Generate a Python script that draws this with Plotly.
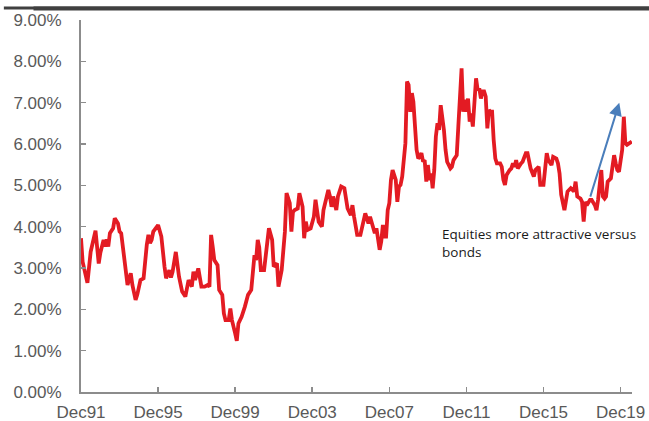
import pandas as pd
import plotly.graph_objects as go

# Months elapsed since Dec 1991 and the plotted yield gap (%)
months_since_dec91 = [
    0, 1, 4, 6, 9, 11, 12, 14, 15, 16, 17, 18, 20, 21, 23, 24, 25, 27, 28, 29,
    31, 32, 34, 35, 37, 39, 41, 42, 43, 44, 45, 48, 50, 51, 52, 53, 55, 56, 57, 59,
    61, 63, 65, 67, 69, 70, 71, 73, 75, 77, 79, 80, 81, 82, 83, 85, 86, 88, 89, 90,
    92, 93, 94, 96, 97, 98, 100, 102, 104, 106, 108, 109, 110, 111, 112, 114, 116, 117, 119, 120,
    122, 123, 125, 127, 128, 130, 131, 132, 133, 135, 136, 138, 139, 140, 141, 143, 145, 146, 148, 150,
    151, 153, 154, 155, 156, 157, 159, 160, 162, 164, 165, 166, 168, 169, 170, 171, 172, 174, 176, 177,
    178, 179, 180, 182, 183, 184, 185, 186, 187, 188, 189, 190, 191, 192, 193, 194, 196, 197, 198, 199,
    200, 201, 202, 203, 204, 205, 206, 207, 208, 209, 210, 211, 212, 213, 214, 215, 216, 217, 218, 219,
    220, 221, 222, 223, 224, 225, 226, 227, 228, 230, 231, 232, 234, 235, 236, 237, 238, 239, 240, 241,
    242, 243, 244, 245, 246, 247, 248, 249, 250, 251, 252, 253, 254, 255, 256, 257, 258, 259, 261, 262,
    263, 264, 265, 267, 268, 269, 270, 271, 272, 274, 275, 277, 278, 280, 282, 283, 285, 286, 288, 290,
    291, 293, 294, 296, 297, 298, 299, 301, 302, 303, 305, 307, 308, 309, 311, 312, 313, 314, 315, 317,
    318, 320, 321, 322, 324, 325, 326, 327, 328, 329, 330, 331, 332, 333, 334, 335, 336, 337, 338, 339,
    340, 342, 343,
]
yield_gap = [
    3.72, 3.15, 2.64, 3.39, 3.90, 3.11, 3.36, 3.68, 3.52, 3.69, 3.52, 3.84, 3.96, 4.20, 4.08, 3.88, 3.84, 3.15, 2.87, 2.59,
    2.87, 2.59, 2.23, 2.35, 2.71, 2.75, 3.56, 3.80, 3.60, 3.68, 3.88, 4.04, 3.76, 3.31, 3.03, 2.75, 2.95, 2.77, 2.91, 3.39,
    2.79, 2.43, 2.31, 2.71, 2.55, 2.91, 2.71, 2.99, 2.55, 2.55, 2.59, 2.55, 3.80, 3.52, 3.19, 3.07, 2.47, 2.35, 1.90, 1.74,
    1.74, 2.02, 1.74, 1.42, 1.24, 1.66, 1.82, 2.06, 2.35, 2.47, 3.31, 3.19, 3.68, 3.50, 2.95, 2.95, 3.60, 3.96, 3.68, 3.03,
    3.11, 2.55, 2.95, 3.88, 4.81, 4.57, 3.88, 4.36, 4.40, 4.44, 4.81, 4.48, 3.72, 4.12, 3.92, 3.96, 4.24, 4.65, 4.12, 4.00,
    4.40, 4.77, 4.89, 4.73, 4.48, 4.73, 4.40, 4.73, 4.97, 4.93, 4.65, 4.44, 4.28, 4.52, 4.24, 4.00, 3.80, 3.80, 4.16, 4.32,
    4.20, 4.08, 4.24, 4.00, 3.84, 3.96, 3.68, 3.44, 3.64, 4.04, 3.76, 3.76, 4.40, 4.57, 5.13, 5.37, 5.13, 4.60, 4.97, 5.01,
    5.21, 5.53, 6.02, 7.51, 7.43, 6.78, 7.23, 7.02, 6.42, 5.86, 5.65, 5.69, 5.78, 5.57, 5.61, 5.09, 5.49, 5.13, 5.29, 4.93,
    5.37, 6.18, 6.50, 6.34, 6.94, 6.70, 6.34, 5.86, 5.57, 5.41, 5.45, 5.61, 5.73, 6.42, 7.39, 7.83, 6.78, 7.07, 6.78, 7.10,
    6.54, 6.74, 6.42, 7.07, 7.59, 7.31, 7.35, 7.10, 7.27, 7.27, 7.15, 6.38, 6.82, 6.78, 6.78, 6.10, 5.65, 5.53, 5.53, 5.45,
    5.13, 5.01, 5.25, 5.37, 5.41, 5.53, 5.45, 5.61, 5.41, 5.53, 5.57, 5.78, 5.78, 5.41, 5.21, 5.37, 5.45, 5.01, 5.01, 5.78,
    5.61, 5.49, 5.69, 5.65, 5.53, 5.29, 4.77, 4.40, 4.73, 4.85, 4.93, 4.85, 5.09, 4.73, 4.68, 4.60, 4.12, 4.60, 4.52, 4.65,
    4.65, 4.52, 4.40, 4.65, 5.37, 4.73, 4.68, 4.73, 5.09, 5.13, 5.17, 5.45, 5.73, 5.53, 5.37, 5.33, 5.57, 5.86, 6.66, 6.02,
    5.98, 6.02, 6.06,
]

start = pd.Timestamp("1991-12-01")
dates = [start + pd.DateOffset(months=m) for m in months_since_dec91]

note_text = "Equities more attractive versus<br>bonds"
arrow_tail = ("2018-04-28", 4.69)
arrow_head = ("2019-11-07", 7.00)
note_pos = ("2010-07-13", 4.08)

axis_color = "#8c8c8c"
label_font = dict(family="Liberation Sans, Arial, sans-serif", size=17, color="#595959")

fig = go.Figure()
fig.add_trace(go.Scatter(
    x=dates, y=yield_gap, mode="lines",
    line=dict(color="#E31B23", width=3.8),
    hoverinfo="skip", showlegend=False,
))

fig.update_layout(
    width=649, height=421,
    margin=dict(l=81, r=17, t=20, b=29, autoexpand=False),
    plot_bgcolor="white", paper_bgcolor="white",
    showlegend=False,
    hovermode=False,
    xaxis=dict(
        type="date", range=["1991-12-01", "2020-07-05"],
        tick0="1991-12-01", dtick="M48", tickformat="%b%y",
        showline=True, linecolor=axis_color, linewidth=2,
        ticks="inside", ticklen=5, tickwidth=1.5, tickcolor=axis_color,
        showgrid=False, zeroline=False, tickfont=label_font,
        ticklabelstandoff=4, automargin=False,
    ),
    yaxis=dict(
        range=[0, 9], dtick=1, tick0=0, tickformat=".2f", ticksuffix="%",
        showline=True, linecolor=axis_color, linewidth=2,
        ticks="inside", ticklen=5, tickwidth=1.5, tickcolor=axis_color,
        showgrid=False, zeroline=False, tickfont=label_font,
        ticklabelstandoff=14, automargin=False,
    ),
    shapes=[dict(
        type="line", xref="paper", yref="paper",
        x0=-0.14, x1=1.04, y0=1.032, y1=1.032,
        line=dict(color="#404040", width=3), layer="above",
    )],
    annotations=[
        # dark rule across the top of the chart
        dict(
            x=0.5, y=1.032, xref="paper", yref="paper",
            xanchor="center", yanchor="middle", showarrow=False,
            text="", width=645, height=3, borderpad=0,
            bgcolor="#404040", font=dict(size=1),
        ),
        dict(
            x=arrow_head[0], y=arrow_head[1], ax=arrow_tail[0], ay=arrow_tail[1],
            xref="x", yref="y", axref="x", ayref="y",
            showarrow=True, arrowhead=2, arrowsize=1.3, arrowwidth=2,
            arrowcolor="#4A7EBB", text="",
        ),
        dict(
            x=note_pos[0], y=note_pos[1], xref="x", yref="y",
            xanchor="left", yanchor="top", align="left",
            text=note_text, showarrow=False,
            font=dict(family="Open Sans, sans-serif", size=13.5, color="#1a1a1a"),
        ),
    ],
)

# remove the default 8px page margin so the figure fills the window exactly
fig.write_html(
    "out.html",
    config={"displayModeBar": False, "staticPlot": True},
    post_script="document.body.style.margin='0';",
)
